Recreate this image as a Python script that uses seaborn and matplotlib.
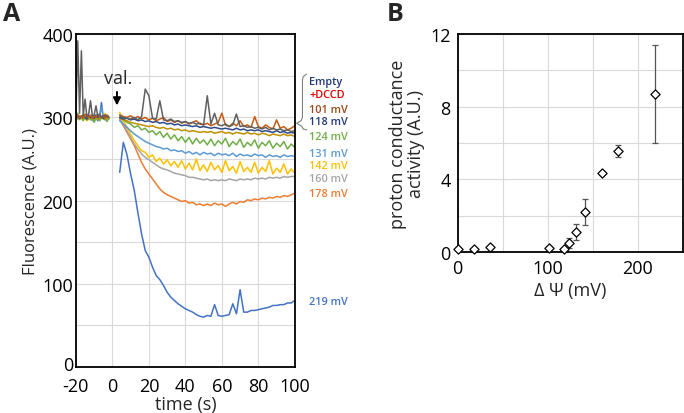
import numpy as np
import pandas as pd
import matplotlib
matplotlib.use("Agg")
import matplotlib.pyplot as plt
import matplotlib.transforms as mtransforms
import seaborn as sns

# --- Panel A: fluorescence traces ---
t_pre = list(range(-20, -1, 1))        # before valinomycin
t_post = list(range(4, 101, 2))        # after valinomycin

pre_gray = [303, 392, 305, 380, 302, 322, 301, 304, 320, 302, 303, 314, 301, 304, 300, 302, 303, 301, 300]
pre_brown = [301, 303, 300, 302, 299, 304, 301, 300, 303, 299, 302, 300, 304, 301, 299, 302, 300, 303, 301]
pre_navy = [300, 302, 299, 301, 303, 300, 298, 302, 300, 301, 299, 303, 300, 302, 301, 299, 300, 302, 300]
pre_olive = [299, 300, 298, 301, 299, 300, 297, 299, 301, 298, 300, 299, 298, 300, 301, 299, 298, 300, 299]
pre_124 = [303, 305, 298, 300, 296, 301, 299, 302, 297, 300, 294, 299, 302, 296, 300, 298, 301, 295, 299]
pre_131 = [300, 298, 301, 299, 297, 300, 302, 298, 300, 296, 299, 301, 297, 303, 312, 300, 298, 301, 299]
pre_142 = [298, 299, 297, 300, 298, 299, 296, 298, 300, 297, 299, 298, 301, 297, 299, 300, 305, 298, 300]
pre_160 = [300, 299, 301, 300, 298, 300, 299, 301, 300, 299, 298, 300, 299, 301, 300, 299, 300, 298, 299]
pre_178 = [299, 300, 298, 301, 299, 300, 298, 299, 301, 300, 299, 298, 300, 299, 301, 300, 299, 300, 298]
pre_219 = [301, 299, 302, 300, 298, 301, 297, 300, 299, 302, 298, 300, 296, 301, 318, 299, 297, 300, 298]

post_gray = [302, 300, 299, 298, 300, 297, 301, 334, 326, 299, 298, 320, 297, 296, 298, 295, 296, 294, 295, 293,
             294, 292, 293, 291, 326, 292, 305, 291, 290, 292, 289, 291, 304, 289, 290, 288, 289, 287, 288, 286,
             288, 285, 287, 285, 286, 284, 285, 283, 284]
post_brown = [303, 301, 300, 302, 299, 301, 298, 300, 297, 299, 296, 298, 300, 295, 297, 294, 296, 293, 295, 292,
              294, 296, 292, 291, 293, 290, 292, 294, 305, 291, 289, 293, 290, 296, 289, 291, 288, 301, 289, 287,
              291, 288, 286, 297, 287, 289, 285, 287, 290]
post_navy = [300, 298, 299, 297, 298, 296, 297, 295, 296, 294, 295, 293, 294, 292, 293, 291, 292, 290, 291, 290,
             289, 290, 288, 289, 288, 287, 288, 287, 286, 287, 286, 285, 287, 285, 286, 284, 285, 284, 285, 283,
             284, 283, 282, 284, 282, 283, 281, 282, 281]
post_olive = [299, 297, 296, 294, 293, 292, 291, 290, 289, 290, 288, 287, 288, 286, 287, 285, 286, 284, 285, 283,
              284, 283, 282, 283, 282, 283, 281, 282, 283, 281, 282, 280, 282, 281, 280, 282, 280, 281, 279, 281,
              280, 278, 280, 279, 278, 280, 278, 279, 277]
post_124 = [300, 297, 294, 292, 288, 290, 285, 287, 282, 284, 279, 283, 276, 281, 274, 279, 272, 277, 270, 276,
            268, 275, 269, 273, 267, 274, 266, 272, 268, 275, 265, 271, 267, 274, 264, 270, 266, 273, 263, 270,
            266, 272, 263, 269, 265, 271, 262, 268, 264]
post_131 = [296, 292, 288, 284, 280, 277, 274, 271, 269, 267, 265, 264, 262, 263, 260, 261, 259, 260, 257, 259,
            256, 258, 255, 258, 256, 257, 254, 257, 255, 256, 254, 257, 253, 256, 254, 255, 253, 256, 254, 255,
            252, 255, 253, 254, 252, 255, 253, 254, 253]
post_142 = [306, 296, 288, 280, 272, 266, 260, 258, 252, 255, 247, 251, 244, 249, 242, 247, 240, 248, 238, 245,
            237, 250, 236, 243, 235, 246, 237, 242, 234, 248, 236, 241, 233, 247, 235, 240, 234, 246, 233, 240,
            235, 248, 232, 239, 234, 244, 232, 238, 233]
post_160 = [298, 292, 284, 276, 268, 262, 256, 252, 249, 246, 243, 240, 238, 237, 235, 233, 232, 231, 230, 228,
            228, 227, 226, 225, 226, 224, 225, 224, 225, 224, 226, 225, 224, 226, 225, 226, 225, 227, 226, 227,
            226, 228, 227, 228, 227, 229, 228, 229, 229]
post_178 = [298, 290, 282, 274, 266, 256, 246, 238, 232, 226, 220, 214, 210, 207, 205, 203, 201, 199, 200, 197,
            198, 195, 196, 194, 196, 194, 197, 195, 196, 193, 196, 198, 196, 199, 198, 201, 200, 202, 201, 203,
            202, 204, 203, 205, 204, 206, 205, 207, 209]
post_219 = [234, 270, 255, 232, 212, 185, 160, 140, 132, 120, 110, 105, 98, 90, 84, 80, 76, 73, 70, 68,
            66, 63, 61, 60, 62, 61, 75, 62, 61, 62, 63, 76, 64, 93, 66, 66, 68, 68, 69, 70,
            71, 72, 74, 74, 75, 75, 77, 77, 80]

# drawing order: bottom first
trace_names = ["219 mV", "178 mV", "160 mV", "142 mV", "131 mV", "124 mV", "olive", "118 mV", "101 mV", "gray"]
trace_colors = ["#4472C4", "#ED7D31", "#A5A5A5", "#FFC000", "#5B9BD5", "#70AD47", "#BF9000", "#2F4B8A", "#C55A11", "#606060"]
pre_values = [pre_219, pre_178, pre_160, pre_142, pre_131, pre_124, pre_olive, pre_navy, pre_brown, pre_gray]
post_values = [post_219, post_178, post_160, post_142, post_131, post_124, post_olive, post_navy, post_brown, post_gray]

label_texts = ["Empty", "+DCCD", "101 mV", "118 mV", "124 mV", "131 mV", "142 mV", "160 mV", "178 mV", "219 mV"]
label_colors = ["#1F3A7A", "#E00000", "#9A4A1A", "#1F3A7A", "#70AD47", "#5B9BD5", "#FFC000", "#A5A5A5", "#ED7D31", "#4472C4"]
label_levels = [343, 328, 309, 295, 277, 257, 242, 227, 208, 79]

# --- Panel B: proton conductance vs membrane potential ---
dpsi = [0, 18, 36, 101, 118, 124, 131, 142, 160, 178, 219]
activity = [0.15, 0.17, 0.28, 0.2, 0.18, 0.5, 1.1, 2.2, 4.32, 5.57, 8.7]
activity_err = [0.0, 0.0, 0.0, 0.0, 0.05, 0.28, 0.43, 0.73, 0.1, 0.32, 2.7]

sns.set_theme(style="whitegrid")
plt.rcParams['font.family'] = ['Open Sans', 'DejaVu Sans']
plt.rcParams['axes.unicode_minus'] = False
grid_c = "#D9D9D9"

fig = plt.figure(figsize=(6.84, 4.14), dpi=100)
axA = fig.add_axes([0.111, 0.111, 0.320, 0.804])
axB = fig.add_axes([0.669, 0.389, 0.329, 0.527])

for name, col, pre, post in zip(trace_names, trace_colors, pre_values, post_values):
    sns.lineplot(x=t_pre, y=pre, color=col, lw=1.1, ax=axA, estimator=None)
    sns.lineplot(x=t_post, y=post, color=col, lw=1.1, ax=axA, estimator=None)

axA.set_xlim(-20, 100)
axA.set_ylim(0, 400)
axA.set_xticks(range(-20, 101, 20))
axA.set_yticks(range(0, 401, 100))
axA.set_yticks(range(50, 400, 100), minor=True)
axA.grid(True, which='both', color=grid_c, lw=0.8)
axA.set_xlabel("time (s)", fontsize=13, labelpad=0)
axA.set_ylabel("Fluorescence (A.U.)", fontsize=12, labelpad=3)

axA.text(3, 347, "val.", fontsize=13, ha='center', va='center')
axA.annotate("", xy=(2.5, 311), xytext=(2.5, 334),
             arrowprops=dict(arrowstyle='-|>', color='black', lw=1.4, mutation_scale=11))

for txt, col, lev in zip(label_texts, label_colors, label_levels):
    axA.text(108, lev, txt, color=col, fontsize=7.8, fontweight='semibold',
             ha='left', va='center', clip_on=False)

# curly brace grouping the four control traces
bx = [106.5, 104.6, 104.2, 104.2, 103.4, 101.0, 103.4, 104.2, 104.2, 104.6, 106.5]
by = [352, 349, 345, 300, 296, 293, 290, 288, 288, 286, 285]
axA.plot(bx, by, color='#808080', lw=0.8, clip_on=False)

axB.errorbar(dpsi, activity, yerr=activity_err, fmt='none', ecolor='#555555',
             elinewidth=0.9, capsize=2, capthick=0.9, zorder=2)
sns.scatterplot(x=dpsi, y=activity, marker='D', s=22, facecolor='white',
                edgecolor='black', linewidth=0.9, ax=axB, zorder=3, clip_on=False)
axB.set_xlim(0, 250)
axB.set_ylim(0, 12)
axB.set_xticks([0, 100, 200])
axB.set_xticks([50, 150, 250], minor=True)
axB.set_yticks([0, 4, 8, 12])
axB.set_yticks([2, 6, 10], minor=True)
axB.grid(True, which='both', color=grid_c, lw=0.8)
axB.set_xlabel("\u0394 \u03a8 (mV)", fontsize=13, labelpad=3)
axB.set_ylabel("proton conductance\nactivity (A.U.)", fontsize=13, labelpad=4, linespacing=1.0)

for ax in (axA, axB):
    ax.set_facecolor('white')
    ax.tick_params(which='both', length=0, labelsize=13, pad=2, colors='black')
    for sp in ax.spines.values():
        sp.set_color('black')
        sp.set_linewidth(1.3)
    ax.set_axisbelow(True)
axA.tick_params(axis='x', pad=7)
axB.tick_params(axis='x', pad=5)
axB.tick_params(axis='y', pad=5)

# lift the "0" label of panel A a little, as in the original
zero_lbl = axA.get_yticklabels()[0]
zero_lbl.set_transform(zero_lbl.get_transform() +
                       mtransforms.ScaledTranslation(0, 3 / 72, fig.dpi_scale_trans))

fig.text(0.005, 0.995, "A", fontsize=18, fontweight='bold', ha='left', va='top')
fig.text(0.565, 0.995, "B", fontsize=18, fontweight='bold', ha='left', va='top')

fig.savefig("out.png", dpi=100, facecolor='white')
